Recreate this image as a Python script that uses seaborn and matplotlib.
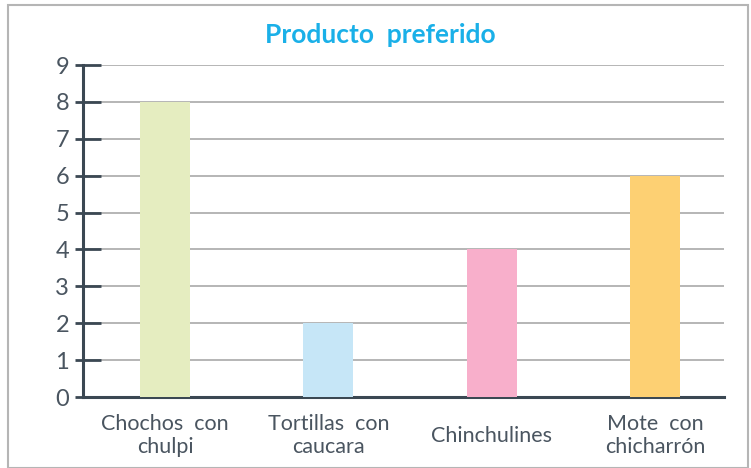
import numpy as np
import pandas as pd
import matplotlib
matplotlib.use("Agg")
import matplotlib.pyplot as plt
from matplotlib.patches import Rectangle
from matplotlib.ticker import MultipleLocator
import seaborn as sns

# datos
productos = ["Chochos  con\nchulpi", "Tortillas  con\ncaucara", "Chinchulines", "Mote  con\nchicharrón"]
votos = [8, 2, 4, 6]
colores = ["#e5edc0", "#c6e6f7", "#f8afcb", "#fdd073"]
titulo = "Producto  preferido"

sns.set_theme(style="white")
plt.rcParams['font.family'] = ['Lato', 'DejaVu Sans']

txt = "#4a5560"
eje = "#3b4853"

df = pd.DataFrame({"producto": productos, "votos": votos})

fig = plt.figure(figsize=(7.51, 4.68), dpi=100)
fig.patches.append(Rectangle((8/751, 0), 740/751, 1 - 5/468, transform=fig.transFigure,
                             fill=False, edgecolor="#b5b5b5", linewidth=1.5))
ax = fig.add_axes([83/751, 1 - 397/468, 641/751, 332/468])

sns.barplot(data=df, x="producto", y="votos", hue="producto", palette=colores,
            width=0.306, legend=False, ax=ax, zorder=3, saturation=1, linewidth=0)

ax.set_ylim(0, 9)
ax.set_xlim(-0.502, 3.42)
ax.yaxis.set_major_locator(MultipleLocator(1))
ax.yaxis.set_minor_locator(MultipleLocator(1))
ax.yaxis.remove_overlapping_locs = False
ax.grid(axis="y", color="#b0b0b0", linewidth=1.3, zorder=1)
ax.set_axisbelow(True)

for s in ["top", "right"]:
    ax.spines[s].set_visible(False)
for s in ["left", "bottom"]:
    ax.spines[s].set_color(eje)
    ax.spines[s].set_linewidth(2.2)

ax.tick_params(axis="y", which="major", direction="in", length=13, width=2, color=eje,
               labelsize=17, labelcolor=txt, pad=10, left=True)
ax.tick_params(axis="y", which="minor", direction="out", length=6, width=2, color=eje, left=True)
ax.tick_params(axis="x", length=0, labelsize=15.5, labelcolor=txt, pad=28)
for lab in ax.get_xticklabels():
    lab.set_verticalalignment("center")

ax.set_xlabel("")
ax.set_ylabel("")
fig.text(380/751, 1 - 35/468, titulo, ha="center", va="center", fontsize=19,
         fontweight="bold", color="#1ab0e8")

fig.savefig("out.png", dpi=100)
